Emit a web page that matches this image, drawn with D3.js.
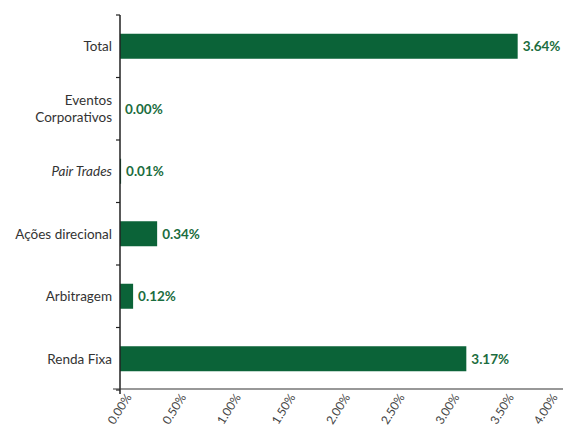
<!DOCTYPE html>
<html><head><meta charset="utf-8">
<script src="https://cdn.jsdelivr.net/npm/d3@7"></script>
<style>body{margin:0;background:#fff}svg{display:block}</style>
</head><body><svg id="c" width="563" height="432"></svg>
<script>
const categories = ["Total", "Eventos Corporativos", "Pair Trades", "Ações direcional", "Arbitragem", "Renda Fixa"];
const values = [3.64, 0.00, 0.01, 0.34, 0.12, 3.17];
const tickValues = [0, 0.5, 1, 1.5, 2, 2.5, 3, 3.5, 4];

const svg = d3.select("#c");
const font = "Lato, 'Open Sans', sans-serif";
const x = d3.scaleLinear().domain([0, 4]).range([120, 557]);
const yb = d3.scaleBand().domain(categories).range([15, 390]);

// bars
svg.selectAll("rect.bar").data(categories).join("rect")
  .attr("x", x(0)).attr("y", d => yb(d) + yb.bandwidth()/2 - 12.5)
  .attr("width", (d,i) => x(values[i]) - x(0)).attr("height", 25)
  .attr("fill", "#0b6338");

// value labels
svg.selectAll("text.val").data(categories).join("text")
  .attr("x", (d,i) => x(values[i]) + 5).attr("y", d => yb(d) + yb.bandwidth()/2 + 5)
  .attr("font-family", font).attr("font-size", 13.5).attr("font-weight", "bold")
  .attr("fill", "#1b6d40")
  .text((d,i) => values[i].toFixed(2) + "%");

// y axis ticks and line
const edges = categories.map(c => yb(c)).concat([yb.range()[1]]);
svg.selectAll("line.yt").data(edges).join("line")
  .attr("x1", x(0) - 4).attr("x2", x(0)).attr("y1", d => d).attr("y2", d => d)
  .attr("stroke", "#222").attr("stroke-width", 1.2);
svg.append("line").attr("x1", x(0)).attr("x2", x(0)).attr("y1", 15).attr("y2", 394)
  .attr("stroke", "#222").attr("stroke-width", 1.5);

// category labels
categories.forEach(c => {
  const cy = yb(c) + yb.bandwidth()/2;
  const t = svg.append("text").attr("x", 112).attr("text-anchor", "end")
    .attr("font-family", font).attr("font-size", 13.5).attr("fill", "#333");
  if (c === "Eventos Corporativos") {
    t.append("tspan").attr("x", 112).attr("y", cy - 4).text("Eventos");
    t.append("tspan").attr("x", 112).attr("y", cy + 13).text("Corporativos");
  } else {
    t.attr("y", cy + 5).text(c);
    if (c === "Pair Trades") t.attr("font-style", "italic");
  }
});

// x axis
svg.append("line").attr("x1", 113).attr("x2", 563).attr("y1", 389).attr("y2", 389)
  .attr("stroke", "#333").attr("stroke-width", 1.2);
const fmt = d3.format(".2f");
svg.selectAll("text.xt").data(tickValues).join("text")
  .attr("transform", d => `translate(${Math.min(x(d) + 12, 558)},397) rotate(-58)`)
  .attr("text-anchor", "end")
  .attr("font-family", font).attr("font-size", 12).attr("fill", "#444")
  .text(d => fmt(d) + "%");
</script></body></html>
